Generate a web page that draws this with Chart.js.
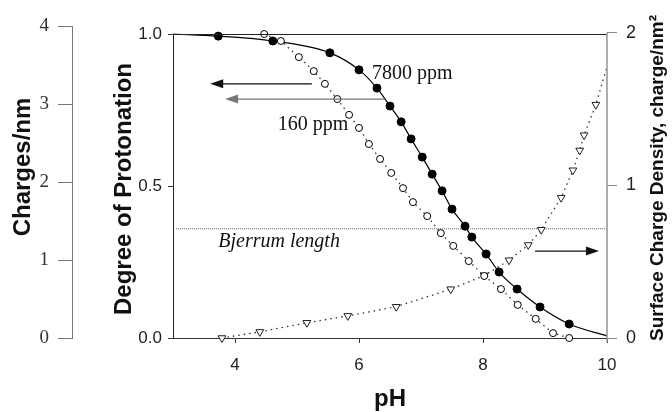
<!DOCTYPE html>
<html>
<head>
<meta charset="utf-8">
<script src="https://cdn.jsdelivr.net/npm/chart.js@4.4.1/dist/chart.umd.min.js"></script>
<style>
html, body { margin: 0; padding: 0; background: #fff; }
</style>
</head>
<body>
<canvas id="phChart" width="672" height="412"></canvas>
<script>
// values
var ph7800 = [3.73, 4.61, 5.53, 6.00, 6.29, 6.50, 6.68, 6.84, 7.02, 7.18, 7.34, 7.50, 7.71, 7.82, 8.05, 8.26, 8.55, 8.92, 9.39];
var prot7800 = [0.993, 0.977, 0.938, 0.882, 0.822, 0.763, 0.711, 0.655, 0.595, 0.539, 0.484, 0.424, 0.368, 0.332, 0.276, 0.217, 0.161, 0.102, 0.046];
// ends of the fitted curve (at the axes)
var fitEnds = [[3.0, 1.0], [10.0, 0.007]];

var ph160 = [4.47, 4.74, 5.03, 5.27, 5.45, 5.65, 5.84, 6.00, 6.16, 6.34, 6.52, 6.71, 6.87, 7.10, 7.32, 7.52, 7.77, 8.02, 8.29, 8.56, 8.85, 9.13, 9.39];
var prot160 = [1.000, 0.977, 0.924, 0.878, 0.836, 0.786, 0.734, 0.691, 0.638, 0.589, 0.543, 0.493, 0.447, 0.401, 0.345, 0.303, 0.253, 0.204, 0.161, 0.109, 0.063, 0.016, 0.000];

var phSigma = [3.79, 4.40, 5.16, 5.82, 6.60, 7.48, 8.02, 8.42, 8.73, 8.94, 9.26, 9.45, 9.56, 9.63, 9.82];
var sigma = [0.00, 0.04, 0.10, 0.145, 0.205, 0.32, 0.41, 0.51, 0.61, 0.71, 0.92, 1.10, 1.23, 1.33, 1.53];
var sigmaEnd = [10.0, 1.78];

var bjerrumCharges = 1.4; // charges/nm
var bjerrumRange = [3.05, 10.0];

var xTicks = [4, 6, 8, 10];
var protTicks = [0, 0.5, 1.0];
var chargeTicks = [0, 1, 2, 3, 4];
var sigmaTicks = [0, 1, 2];

var sans = 'Liberation Sans, Arial, sans-serif';
var serif = 'Liberation Serif, Times New Roman, serif';

function pts(xs, ys) {
    var out = [];
    for (var i = 0; i < xs.length; i++) out.push({ x: xs[i], y: ys[i] });
    return out;
}

var fitData = [{ x: fitEnds[0][0], y: fitEnds[0][1] }].concat(pts(ph7800, prot7800), [{ x: fitEnds[1][0], y: fitEnds[1][1] }]);
var sigmaData = pts(phSigma, sigma).concat([{ x: sigmaEnd[0], y: sigmaEnd[1] }]);
var sigmaRadius = phSigma.map(function () { return 4.5; }).concat([0]);

function fixedTicks(list) {
    return function (scale) {
        scale.ticks = list.map(function (v) { return { value: v }; });
    };
}

function arrow(ctx, x1, y1, x2, y2, color) {
    var dir = x2 > x1 ? 1 : -1;
    ctx.save();
    ctx.strokeStyle = color;
    ctx.fillStyle = color;
    ctx.lineWidth = 1.3;
    ctx.beginPath();
    ctx.moveTo(x1, y1);
    ctx.lineTo(x2 - dir * 10, y2);
    ctx.stroke();
    ctx.beginPath();
    ctx.moveTo(x2, y2);
    ctx.lineTo(x2 - dir * 13, y2 - 4.5);
    ctx.lineTo(x2 - dir * 13, y2 + 4.5);
    ctx.closePath();
    ctx.fill();
    ctx.restore();
}

function vText(ctx, text, cx, cy, font) {
    ctx.save();
    ctx.fillStyle = '#111';
    ctx.textBaseline = 'middle';
    ctx.textAlign = 'center';
    ctx.font = font;
    ctx.translate(cx, cy);
    ctx.rotate(-Math.PI / 2);
    ctx.fillText(text, 0, 0);
    ctx.restore();
}

var overlay = {
    id: 'overlay',
    afterDatasetsDraw: function (chart) {
        var ctx = chart.ctx;
        var x = chart.scales.x, y = chart.scales.y, y2 = chart.scales.y2, y3 = chart.scales.y3;

        // frame: left axis, top line, right axis
        ctx.save();
        ctx.strokeStyle = '#222';
        ctx.lineWidth = 1;
        ctx.beginPath();
        ctx.moveTo(x.getPixelForValue(3) + 0.5, y.getPixelForValue(0));
        ctx.lineTo(x.getPixelForValue(3) + 0.5, y.getPixelForValue(1) + 0.5);
        ctx.lineTo(x.getPixelForValue(10), y.getPixelForValue(1) + 0.5);
        ctx.stroke();
        ctx.strokeStyle = '#999';
        ctx.lineWidth = 1.6;
        ctx.beginPath();
        ctx.moveTo(x.getPixelForValue(10), y3.getPixelForValue(2));
        ctx.lineTo(x.getPixelForValue(10), y3.getPixelForValue(0) + 4);
        ctx.stroke();
        ctx.restore();

        // arrows
        arrow(ctx, x.getPixelForValue(5.24), y.getPixelForValue(0.836), x.getPixelForValue(3.60), y.getPixelForValue(0.836), '#111');
        arrow(ctx, x.getPixelForValue(6.42), y.getPixelForValue(0.786), x.getPixelForValue(3.84), y.getPixelForValue(0.786), '#777');
        arrow(ctx, x.getPixelForValue(8.84), y.getPixelForValue(0.286), x.getPixelForValue(9.87), y.getPixelForValue(0.286), '#111');

        // annotations
        ctx.save();
        ctx.fillStyle = '#111';
        ctx.textBaseline = 'middle';
        ctx.textAlign = 'left';
        ctx.font = '20px ' + serif;
        ctx.fillText('7800 ppm', x.getPixelForValue(6.21), y.getPixelForValue(0.868));
        ctx.fillText('160 ppm', x.getPixelForValue(4.69), y.getPixelForValue(0.70));
        ctx.font = 'italic 20px ' + serif;
        ctx.fillText('Bjerrum length', x.getPixelForValue(3.73), y.getPixelForValue(0.316));
        ctx.restore();

        // axis titles (all read bottom to top)
        vText(ctx, 'Charges/nm', y2.left + 23, 167, 'bold 24px ' + sans);
        vText(ctx, 'Degree of Protonation', y.left + 52, 189, 'bold 24px ' + sans);
        vText(ctx, 'Surface Charge Density, charge/nm\u00b2', y3.right - 14, 178, 'bold 19px ' + sans);
    }
};

var ctx = document.getElementById('phChart').getContext('2d');
var chart = new Chart(ctx, {
    type: 'scatter',
    data: {
        datasets: [
            {
                label: '7800 ppm',
                data: pts(ph7800, prot7800),
                yAxisID: 'y',
                showLine: false,
                pointRadius: 4,
                pointBackgroundColor: '#000',
                pointBorderColor: '#000',
                order: 1
            },
            {
                label: '7800 ppm fit',
                data: fitData,
                yAxisID: 'y',
                showLine: true,
                borderColor: '#000',
                borderWidth: 1.2,
                cubicInterpolationMode: 'monotone',
                pointRadius: 0,
                order: 5
            },
            {
                label: '160 ppm',
                data: pts(ph160, prot160),
                yAxisID: 'y',
                showLine: true,
                borderColor: '#333',
                borderWidth: 1.3,
                borderDash: [1.5, 4],
                pointRadius: 3.5,
                pointBorderWidth: 1,
                pointBackgroundColor: '#fff',
                pointBorderColor: '#000',
                order: 2
            },
            {
                label: 'Surface charge density',
                data: sigmaData,
                yAxisID: 'y3',
                showLine: true,
                borderColor: '#333',
                borderWidth: 1.3,
                borderDash: [1.5, 4],
                pointStyle: 'triangle',
                rotation: 180,
                pointRadius: sigmaRadius,
                pointBorderWidth: 1,
                pointBackgroundColor: '#fff',
                pointBorderColor: '#222',
                order: 3
            },
            {
                label: 'Bjerrum length',
                data: [{ x: bjerrumRange[0], y: bjerrumCharges }, { x: bjerrumRange[1], y: bjerrumCharges }],
                yAxisID: 'y2',
                showLine: true,
                borderColor: '#555',
                borderWidth: 1,
                borderDash: [1, 1],
                pointRadius: 0,
                order: 6
            }
        ]
    },
    options: {
        responsive: false,
        animation: false,
        layout: { padding: { top: 26, left: 0, right: 0, bottom: 0 } },
        plugins: { legend: { display: false }, tooltip: { enabled: false } },
        datasets: { scatter: { clip: false } },
        scales: {
            x: {
                type: 'linear',
                min: 3,
                max: 10,
                afterBuildTicks: fixedTicks(xTicks),
                afterFit: function (s) { s.height = 74; },
                grid: { drawOnChartArea: false, tickLength: 5, color: '#333' },
                border: { color: '#333' },
                ticks: { font: { family: sans, size: 17 }, color: '#222', padding: 12 },
                title: { display: true, text: 'pH', color: '#111', font: { family: sans, size: 24, weight: 'bold' }, padding: { top: 0, bottom: -2 } }
            },
            y: {
                type: 'linear',
                position: 'left',
                weight: 0,
                min: 0,
                max: 312 / 304,
                afterBuildTicks: fixedTicks(protTicks),
                afterFit: function (s) { s.width = 101; },
                grid: { drawOnChartArea: false, tickLength: 5, color: '#333' },
                border: { display: false },
                ticks: { font: { family: sans, size: 17 }, color: '#222', padding: 6, callback: function (v) { return v.toFixed(1); } }
            },
            y2: {
                type: 'linear',
                position: 'left',
                weight: 1,
                min: 0,
                max: 4,
                afterBuildTicks: fixedTicks(chargeTicks),
                afterFit: function (s) { s.width = 72; },
                grid: { drawOnChartArea: false, tickLength: 14, color: '#777' },
                border: { color: '#777' },
                ticks: { font: { family: serif, size: 19 }, color: '#333', padding: 9 }
            },
            y3: {
                type: 'linear',
                position: 'right',
                min: 0,
                max: 312 / 152.5,
                afterBuildTicks: fixedTicks(sigmaTicks),
                afterFit: function (s) { s.width = 65; },
                grid: { drawOnChartArea: false, tickLength: 10, color: '#888' },
                border: { display: false },
                ticks: { font: { family: sans, size: 18 }, color: '#222', padding: 9 }
            }
        }
    },
    plugins: [overlay]
});
</script>
</body>
</html>
